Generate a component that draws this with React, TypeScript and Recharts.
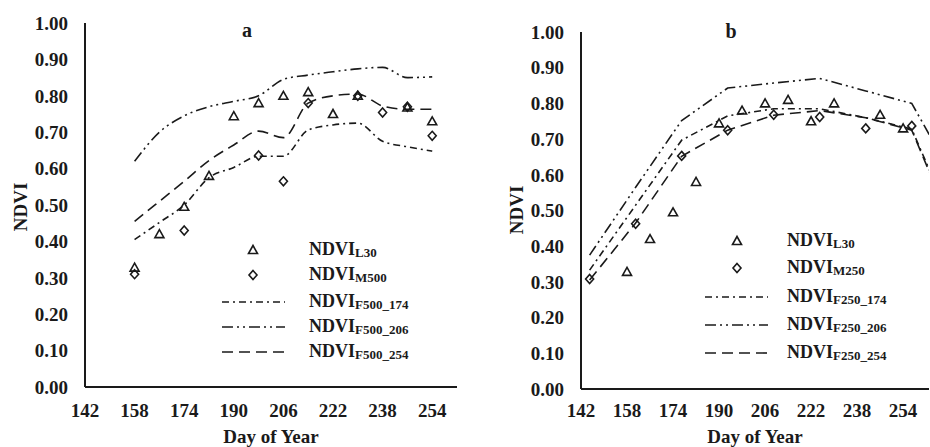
import { ComposedChart, Line, Scatter, XAxis, YAxis, Legend, Label } from "recharts";

// axis ticks
const dayTicks = [142, 158, 174, 190, 206, 222, 238, 254];
const ndviTicks = [0, 0.1, 0.2, 0.3, 0.4, 0.5, 0.6, 0.7, 0.8, 0.9, 1.0];

// Landsat 30 m observations (same in both panels)
const l30Days = [158, 166, 174, 182, 190, 198, 206, 214, 222, 230, 246, 254];
const l30Ndvi = [0.328, 0.42, 0.495, 0.58, 0.744, 0.78, 0.8, 0.81, 0.75, 0.8, 0.768, 0.73];

// panel a: MODIS 500 m and fused series
const m500Days = [158, 174, 198, 206, 214, 230, 238, 246, 254];
const m500Ndvi = [0.31, 0.43, 0.636, 0.565, 0.78, 0.8, 0.754, 0.77, 0.69];
const f500Days = [158, 166, 174, 182, 190, 198, 206, 214, 222, 230, 238, 246, 254];
const f500_174 = [0.405, 0.452, 0.5, 0.575, 0.603, 0.634, 0.634, 0.706, 0.72, 0.725, 0.675, 0.66, 0.648];
const f500_206 = [0.62, 0.7, 0.745, 0.77, 0.785, 0.8, 0.845, 0.857, 0.866, 0.874, 0.878, 0.85, 0.852];
const f500_254 = [0.455, 0.51, 0.565, 0.622, 0.665, 0.703, 0.685, 0.78, 0.8, 0.805, 0.772, 0.763, 0.763];

// panel b: MODIS 250 m and fused series
const m250Days = [145, 161, 177, 193, 209, 225, 241, 257];
const m250Ndvi = [0.308, 0.463, 0.653, 0.725, 0.768, 0.762, 0.73, 0.737];
const f250Days = [145, 161, 177, 193, 209, 225, 241, 257, 273];
const f250_174 = [0.333, 0.515, 0.697, 0.765, 0.785, 0.785, 0.76, 0.728, 0.43];
const f250_206 = [0.375, 0.565, 0.752, 0.843, 0.857, 0.87, 0.835, 0.8, 0.57];
const f250_254 = [0.305, 0.465, 0.652, 0.725, 0.767, 0.78, 0.76, 0.725, 0.42];

const pts = (days: number[], vals: number[]) => days.map((day, i) => ({ day, ndvi: vals[i] }));

const SERIF = "'Liberation Serif', 'Times New Roman', serif";
const INK = "#1a1a1a";
const DASH_174 = "7 4 2 4";
const DASH_206 = "11 4 2 4 2 4";
const DASH_254 = "11 6";

const Triangle = (props: any) => {
  const { cx, cy } = props;
  return (
    <path
      d={`M${cx},${cy - 4.5}L${cx + 4.5},${cy + 3.5}L${cx - 4.5},${cy + 3.5}Z`}
      fill="none"
      stroke={INK}
      strokeWidth={1.6}
    />
  );
};

const Diamond = (props: any) => {
  const { cx, cy } = props;
  return (
    <path
      d={`M${cx},${cy - 4.5}L${cx + 4},${cy}L${cx},${cy + 4.5}L${cx - 4},${cy}Z`}
      fill="none"
      stroke={INK}
      strokeWidth={1.6}
    />
  );
};

interface LegendGeom {
  rows: number[];
  markerX: number;
  lineX1: number;
  lineX2: number;
  textX: number;
}

const LegendBox = ({ geom, mName, fName, w }: { geom: LegendGeom; mName: string; fName: string; w: number }) => {
  const items = [
    { kind: "tri", sub: "L30" },
    { kind: "dia", sub: mName },
    { kind: "line", dash: DASH_174, sub: `${fName}_174` },
    { kind: "line", dash: DASH_206, sub: `${fName}_206` },
    { kind: "line", dash: DASH_254, sub: `${fName}_254` },
  ];
  return (
    <svg width={w} height={447} style={{ overflow: "visible" }}>
      {items.map((it, i) => {
        const y = geom.rows[i];
        return (
          <g key={it.sub}>
            {it.kind === "tri" && <Triangle cx={geom.markerX} cy={y} />}
            {it.kind === "dia" && <Diamond cx={geom.markerX} cy={y} />}
            {it.kind === "line" && (
              <line
                x1={geom.lineX1}
                x2={geom.lineX2}
                y1={y}
                y2={y}
                stroke={INK}
                strokeWidth={1.6}
                strokeDasharray={it.dash}
              />
            )}
            <text x={geom.textX} y={y + 5} fontFamily={SERIF} fontWeight={700} fontSize={18} fill={INK}>
              NDVI
              <tspan fontSize={13} dy={2}>
                {it.sub}
              </tspan>
            </text>
          </g>
        );
      })}
    </svg>
  );
};

interface PanelProps {
  left: number;
  width: number;
  title: string;
  titleX: number;
  titleY: number;
  ndviX: number;
  ndviY: number;
  top: number;
  right: number;
  yAxisWidth: number;
  xAxisHeight: number;
  xTickMargin: number;
  xMax: number;
  curve: "monotone" | "linear";
  mName: string;
  fName: string;
  mDays: number[];
  mNdvi: number[];
  fDays: number[];
  f174: number[];
  f206: number[];
  f254: number[];
  legend: LegendGeom;
}

const Panel = (p: PanelProps) => {
  const tickStyle = { fill: INK, fontSize: 19, fontWeight: 700, fontFamily: SERIF };
  return (
    <div style={{ position: "absolute", left: p.left, top: 0, width: p.width, height: 447 }}>
      <ComposedChart width={p.width} height={447} margin={{ top: p.top, right: p.right, bottom: 0, left: 0 }}>
        <XAxis
          type="number"
          dataKey="day"
          domain={[142, p.xMax]}
          ticks={dayTicks}
          allowDataOverflow
          height={p.xAxisHeight}
          tickLine={false}
          tickSize={0}
          tickMargin={p.xTickMargin}
          axisLine={{ stroke: INK, strokeWidth: 2 }}
          tick={tickStyle}
        >
          <Label
            value="Day of Year"
            position="insideBottom"
            offset={4}
            fill={INK}
            fontSize={19}
            fontWeight={700}
            fontFamily={SERIF}
          />
        </XAxis>
        <YAxis
          type="number"
          domain={[0, 1]}
          ticks={ndviTicks}
          tickFormatter={(v: number) => v.toFixed(2)}
          width={p.yAxisWidth}
          tickLine={false}
          tickSize={0}
          tickMargin={17}
          axisLine={{ stroke: INK, strokeWidth: 2 }}
          tick={tickStyle}
        />
        <Line
          data={pts(p.fDays, p.f174)}
          dataKey="ndvi"
          type={p.curve}
          stroke={INK}
          strokeWidth={1.6}
          strokeDasharray={DASH_174}
          dot={false}
          isAnimationActive={false}
        />
        <Line
          data={pts(p.fDays, p.f206)}
          dataKey="ndvi"
          type={p.curve}
          stroke={INK}
          strokeWidth={1.6}
          strokeDasharray={DASH_206}
          dot={false}
          isAnimationActive={false}
        />
        <Line
          data={pts(p.fDays, p.f254)}
          dataKey="ndvi"
          type={p.curve}
          stroke={INK}
          strokeWidth={1.6}
          strokeDasharray={DASH_254}
          dot={false}
          isAnimationActive={false}
        />
        <Scatter data={pts(l30Days, l30Ndvi)} dataKey="ndvi" shape={Triangle} isAnimationActive={false} />
        <Scatter data={pts(p.mDays, p.mNdvi)} dataKey="ndvi" shape={Diamond} isAnimationActive={false} />
        <Legend
          layout="vertical"
          align="center"
          verticalAlign="middle"
          wrapperStyle={{ left: 0, top: 0, width: p.width, height: 447, pointerEvents: "none" }}
          content={() => <LegendBox geom={p.legend} mName={p.mName} fName={p.fName} w={p.width} />}
        />
        <text x={p.titleX} y={p.titleY} textAnchor="middle" fontFamily={SERIF} fontWeight={700} fontSize={20} fill={INK}>
          {p.title}
        </text>
        <text
          x={p.ndviX}
          y={p.ndviY}
          textAnchor="middle"
          transform={`rotate(-90, ${p.ndviX}, ${p.ndviY})`}
          fontFamily={SERIF}
          fontWeight={700}
          fontSize={19}
          fill={INK}
        >
          NDVI
        </text>
      </ComposedChart>
    </div>
  );
};

export default function App() {
  return (
    <div
      style={{
        position: "fixed",
        left: 0,
        top: 0,
        width: 930,
        height: 447,
        overflow: "hidden",
        background: "#fff",
      }}
    >
      <Panel
        left={0}
        width={465}
        title="a"
        titleX={247}
        titleY={37}
        ndviX={27}
        ndviY={207}
        top={23}
        right={8}
        yAxisWidth={85}
        xAxisHeight={60}
        xTickMargin={17}
        xMax={262}
        curve="monotone"
        mName="M500"
        fName="F500"
        mDays={m500Days}
        mNdvi={m500Ndvi}
        fDays={f500Days}
        f174={f500_174}
        f206={f500_206}
        f254={f500_254}
        legend={{ rows: [250, 275, 302, 327, 352], markerX: 253, lineX1: 222, lineX2: 285, textX: 309 }}
      />
      <Panel
        left={465}
        width={465}
        title="b"
        titleX={266}
        titleY={38}
        ndviX={58}
        ndviY={210}
        top={32}
        right={1}
        yAxisWidth={116}
        xAxisHeight={58}
        xTickMargin={15}
        xMax={263}
        curve="linear"
        mName="M250"
        fName="F250"
        mDays={m250Days}
        mNdvi={m250Ndvi}
        fDays={f250Days}
        f174={f250_174}
        f206={f250_206}
        f254={f250_254}
        legend={{ rows: [241, 268, 297, 325, 353], markerX: 272, lineX1: 240, lineX2: 303, textX: 322 }}
      />
    </div>
  );
}
